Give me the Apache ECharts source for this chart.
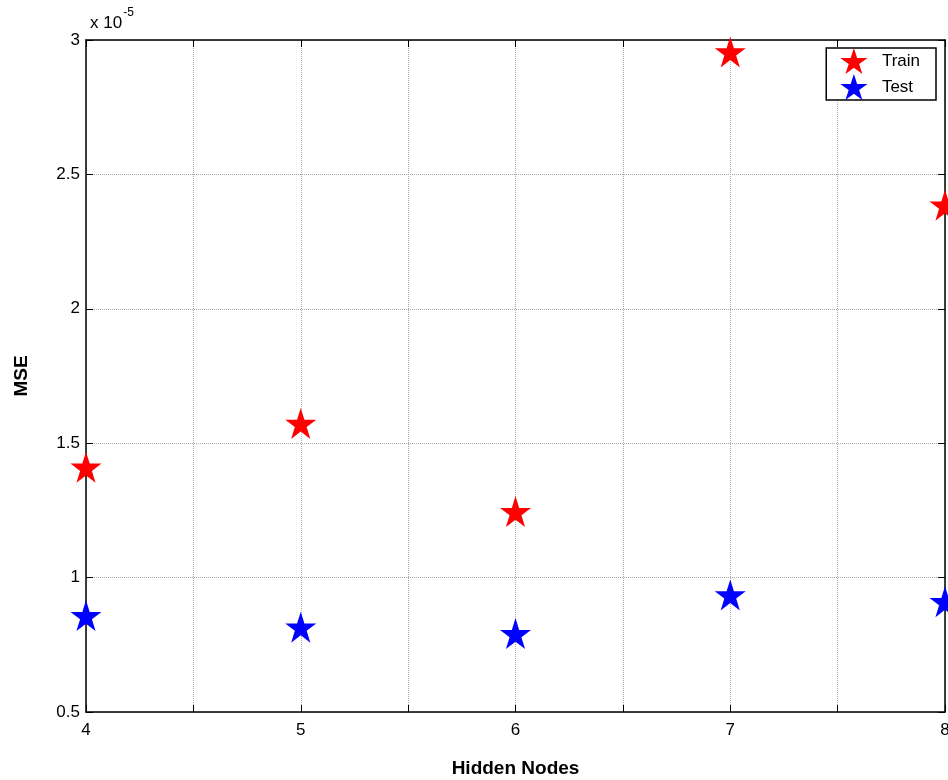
<!DOCTYPE html>
<html>
<head>
<meta charset="utf-8">
<title>MSE vs Hidden Nodes</title>
<script src="https://cdn.jsdelivr.net/npm/echarts@6/dist/echarts.min.js"></script>
<style>
  html, body { margin: 0; padding: 0; background: #fff; }
  #chart { width: 948px; height: 780px; }
</style>
</head>
<body>
<div id="chart"></div>
<script>
// Hidden node counts and mean squared error (in units of 1e-5)
const hiddenNodes = [4, 5, 6, 7, 8];
const trainMSE = [1.405, 1.568, 1.24, 2.95, 2.38];
const testMSE = [0.853, 0.81, 0.786, 0.93, 0.905];
const seriesNames = ['Train', 'Test'];
const scaleExponent = '-5';

// Five-pointed star outline used for markers and legend icons
const starPath = 'path://M100 0 L122.45 69.1 L195.1 69.1 L136.3 111.8 L158.8 180.9 L100 138.2 L41.2 180.9 L63.7 111.8 L4.9 69.1 L77.55 69.1 Z';

const FONT = 'Liberation Sans, Arial, sans-serif';

const chart = echarts.init(document.getElementById('chart'), null, { renderer: 'canvas' });

const gridLine = { show: true, lineStyle: { color: '#a8a8a8', width: 1, type: [1, 1] } };
const boxLine = { show: true, onZero: false, lineStyle: { color: '#000', width: 1.5 } };
const innerTick = { show: true, inside: true, length: 7, lineStyle: { color: '#000', width: 1 } };

chart.setOption({
  animation: false,
  backgroundColor: '#fff',
  title: {
    left: 85,
    top: 2,
    text: '{a|x 10}{b|' + scaleExponent + '}',
    textStyle: {
      fontWeight: 'normal',
      rich: {
        a: { fontFamily: FONT, fontSize: 17, fontWeight: 'normal', color: '#000', verticalAlign: 'bottom', padding: [8, 0, 0, 0] },
        b: { fontFamily: FONT, fontSize: 12, fontWeight: 'normal', color: '#000', verticalAlign: 'top', padding: [0, 0, 8, 1] }
      }
    }
  },
  legend: {
    right: 12,
    top: 48,
    orient: 'vertical',
    data: seriesNames,
    icon: starPath,
    itemWidth: 28,
    itemHeight: 26,
    itemGap: 0,
    padding: [0, 16, 0, 14],
    borderColor: '#000',
    borderWidth: 1.5,
    backgroundColor: '#fff',
    textStyle: { fontFamily: FONT, fontSize: 17, color: '#000', padding: [0, 0, 0, 9] }
  },
  grid: { left: 86, right: 3, top: 40, bottom: 68, containLabel: false, outerBoundsMode: 'none' },
  xAxis: [
    {
      type: 'value',
      min: 4, max: 8, interval: 0.5,
      name: 'Hidden Nodes',
      nameLocation: 'middle',
      nameGap: 47,
      nameTextStyle: { fontFamily: FONT, fontSize: 19, fontWeight: 'bold', color: '#000' },
      axisLine: boxLine,
      axisTick: innerTick,
      splitLine: gridLine,
      axisLabel: {
        fontFamily: FONT, fontSize: 17, color: '#000', margin: 10,
        formatter: v => (Number.isInteger(v) ? String(v) : '')
      }
    },
    {
      type: 'value', position: 'top',
      min: 4, max: 8, interval: 0.5,
      axisLine: boxLine, axisTick: innerTick,
      splitLine: { show: false }, axisLabel: { show: false }
    }
  ],
  yAxis: [
    {
      type: 'value',
      min: 0.5, max: 3, interval: 0.5,
      name: 'MSE',
      nameLocation: 'middle',
      nameGap: 55,
      nameRotate: 90,
      nameTextStyle: { fontFamily: FONT, fontSize: 19, fontWeight: 'bold', color: '#000' },
      axisLine: boxLine,
      axisTick: innerTick,
      splitLine: gridLine,
      axisLabel: { fontFamily: FONT, fontSize: 17, color: '#000', margin: 6 }
    },
    {
      type: 'value', position: 'right',
      min: 0.5, max: 3, interval: 0.5,
      axisLine: boxLine, axisTick: innerTick,
      splitLine: { show: false }, axisLabel: { show: false }
    }
  ],
  series: [
    {
      name: seriesNames[0],
      type: 'scatter',
      clip: false,
      symbol: starPath,
      symbolSize: 31,
      symbolOffset: [0, -1.5],
      itemStyle: { color: '#ff0000', opacity: 1 },
      data: hiddenNodes.map((x, i) => [x, trainMSE[i]])
    },
    {
      name: seriesNames[1],
      type: 'scatter',
      clip: false,
      symbol: starPath,
      symbolSize: 31,
      symbolOffset: [0, -1.5],
      itemStyle: { color: '#0000ff', opacity: 1 },
      data: hiddenNodes.map((x, i) => [x, testMSE[i]])
    }
  ]
});
</script>
</body>
</html>
